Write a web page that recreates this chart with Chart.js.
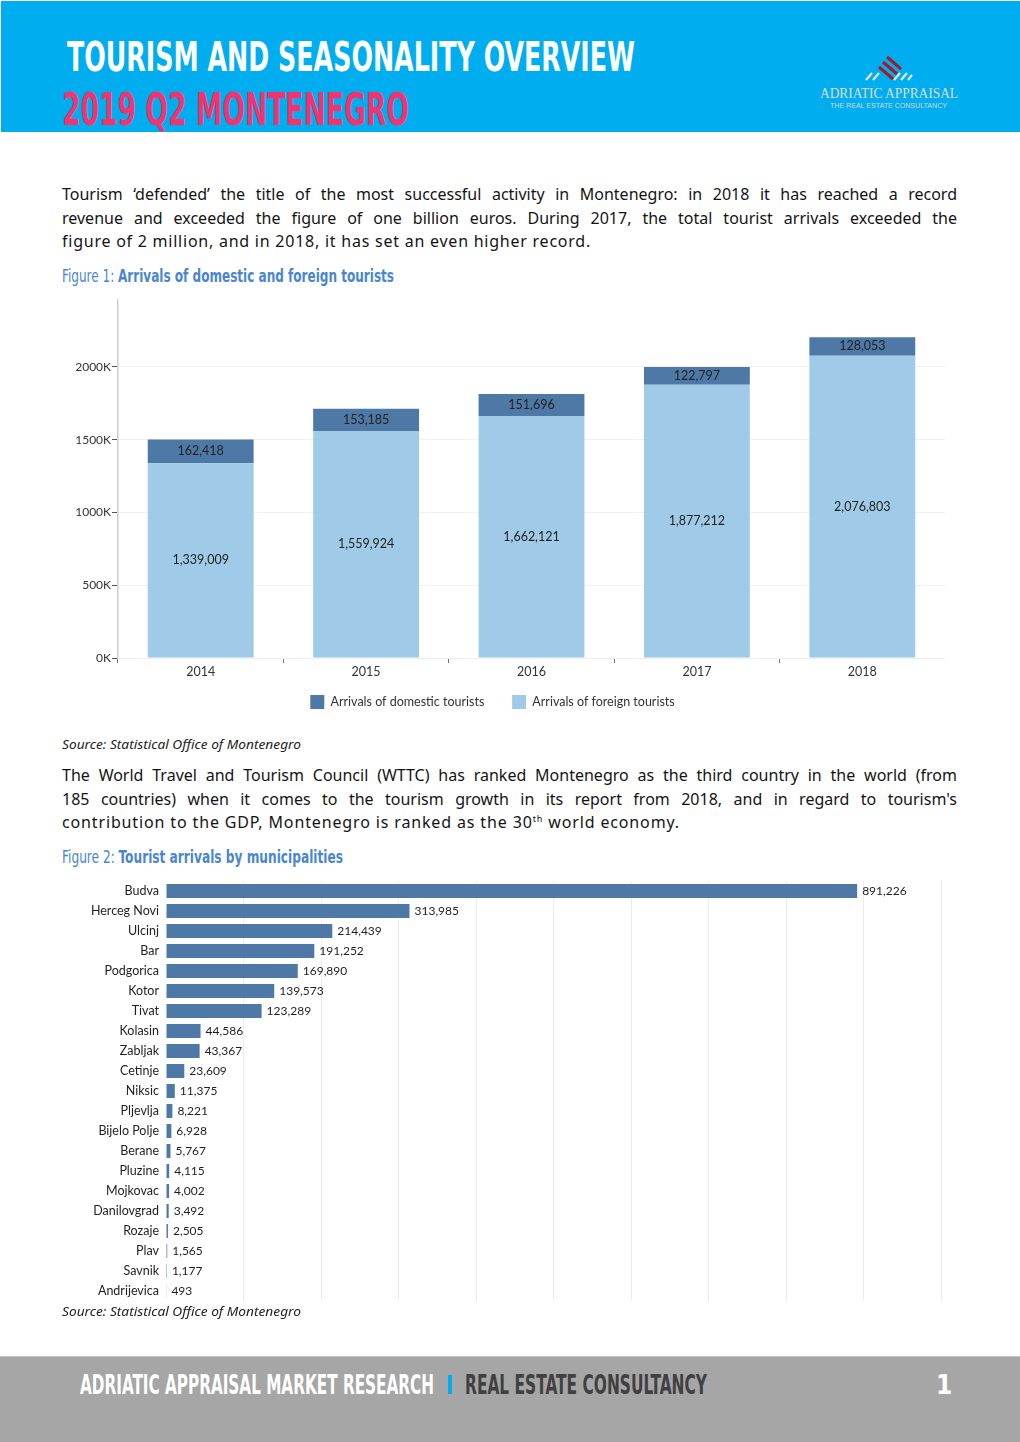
<!DOCTYPE html>
<html><head><meta charset="utf-8">
<script src="https://cdn.jsdelivr.net/npm/chart.js@4.4.0/dist/chart.umd.min.js"></script>
<style>
html,body{margin:0;padding:0;background:#fff;}
body{width:1020px;height:1442px;position:relative;overflow:hidden;font-family:'Noto Sans',sans-serif;color:#1a1a1a;}
.abs{position:absolute;white-space:nowrap;}
#hdr{position:absolute;left:1px;top:1px;width:1019px;height:131px;background:#00aeef;}
.cond{font-family:'Liberation Sans Narrow','DejaVu Sans Condensed',sans-serif;font-weight:bold;line-height:1;transform-origin:0 0;}
.para{position:absolute;left:62px;width:895px;font-family:'Noto Sans',sans-serif;font-size:16px;line-height:23.5px;white-space:nowrap;text-align:justify;text-align-last:justify;color:#141414;}
.para.last{text-align-last:left;}
.cap{color:#4a86cf;font-size:17px;}
.cap b{font-weight:bold;}
.src{font-family:'Noto Sans',sans-serif;font-style:italic;font-size:12px;line-height:15px;color:#222;transform-origin:0 0;}
#ftr{position:absolute;left:0;top:1356px;width:1020px;height:86px;background:#a6a6a6;border-top:1px solid #c4c4c4;box-sizing:border-box;}
canvas{position:absolute;}
</style></head>
<body>
<div id="hdr"></div>
<span class="abs cond fit" data-w="568" style="left:67px;top:37px;font-size:41px;color:#fff;">TOURISM AND SEASONALITY OVERVIEW</span>
<span class="abs cond fit" data-w="347" style="left:62px;top:88px;font-size:44px;color:#ef3470;">2019 Q2 MONTENEGRO</span>
<svg class="abs" style="left:860px;top:50px" width="60" height="34" viewBox="0 0 60 34">
  <g stroke="#e6e6e6" stroke-width="2.2">
    <line x1="6" y1="30" x2="12" y2="23"/><line x1="13" y1="30" x2="19" y2="23"/>
    <line x1="34" y1="30" x2="40" y2="23"/><line x1="41" y1="30" x2="47" y2="23"/>
    <line x1="48" y1="30" x2="52" y2="25"/>
  </g>
  <g stroke="#a31b2b" stroke-width="3">
    <line x1="19" y1="17" x2="33" y2="29"/><line x1="23" y1="12" x2="37" y2="24"/><line x1="27" y1="7" x2="41" y2="19"/>
  </g>
</svg>
<span class="abs fit" data-w="138" style="left:820px;top:85px;font-family:'Liberation Serif',serif;font-size:15px;line-height:16px;color:#dcdcdc;transform-origin:0 0;">ADRIATIC APPRAISAL</span>
<span class="abs fit" data-w="117" style="left:830px;top:101px;font-family:'Liberation Sans',sans-serif;font-size:7.5px;line-height:9px;color:#d6d6d6;transform-origin:0 0;">THE REAL ESTATE CONSULTANCY</span>

<div class="para" style="top:183px">Tourism ‘defended’ the title of the most successful activity in Montenegro: in 2018 it has reached a record</div>
<div class="para" style="top:206.5px">revenue and exceeded the figure of one billion euros. During 2017, the total tourist arrivals exceeded the</div>
<div class="para last" data-w="529" style="top:230px">figure of 2 million, and in 2018, it has set an even higher record.</div>

<span class="abs cond cap fit" data-w="332" style="left:62px;top:268px;font-weight:normal;"><span>Figure 1: </span><b>Arrivals of domestic and foreign tourists</b></span>

<canvas id="c1" width="905" height="433" style="left:40px;top:290px;width:905px;height:433px;"></canvas>

<span class="abs src fit" data-w="239" style="left:62px;top:737px;">Source: Statistical Office of Montenegro</span>

<div class="para" style="top:764px">The World Travel and Tourism Council (WTTC) has ranked Montenegro as the third country in the world (from</div>
<div class="para" style="top:787.5px">185 countries) when it comes to the tourism growth in its report from 2018, and in regard to tourism's</div>
<div class="para last" data-w="618" style="top:811px">contribution to the GDP, Montenegro is ranked as the 30<sup style="font-size:9px;line-height:0;">th</sup> world economy.</div>

<span class="abs cond cap fit" data-w="281" style="left:62px;top:849px;font-weight:normal;"><span>Figure 2: </span><b>Tourist arrivals by municipalities</b></span>

<canvas id="c2" width="900" height="426" style="left:60px;top:878px;width:900px;height:426px;"></canvas>

<span class="abs src fit" data-w="239" style="left:62px;top:1304px;">Source: Statistical Office of Montenegro</span>

<div id="ftr"></div>
<span class="abs cond fit" data-w="354" style="left:80px;top:1372px;font-size:26px;color:#fff;">ADRIATIC APPRAISAL MARKET RESEARCH</span>
<div class="abs" style="left:448px;top:1375px;width:4px;height:19px;background:#00aeef;"></div>
<span class="abs cond fit" data-w="242" style="left:465px;top:1372px;font-size:26px;color:#404040;">REAL ESTATE CONSULTANCY</span>
<span class="abs cond" style="left:936px;top:1372px;font-size:26px;color:#fff;">1</span>

<script>
// ---- Figure 1 data ----
const years = ['2014', '2015', '2016', '2017', '2018'];
const domesticArrivals = [162418, 153185, 151696, 122797, 128053];
const foreignArrivals = [1339009, 1559924, 1662121, 1877212, 2076803];
const seriesNames = ['Arrivals of domestic tourists', 'Arrivals of foreign tourists'];
const yTickValues = [0, 500000, 1000000, 1500000, 2000000];
const yMax = 2460000;

// ---- Figure 2 data ----
const municipalities = ['Budva', 'Herceg Novi', 'Ulcinj', 'Bar', 'Podgorica', 'Kotor', 'Tivat', 'Kolasin', 'Zabljak', 'Cetinje', 'Niksic', 'Pljevlja', 'Bijelo Polje', 'Berane', 'Pluzine', 'Mojkovac', 'Danilovgrad', 'Rozaje', 'Plav', 'Savnik', 'Andrijevica'];
const municipalityArrivals = [891226, 313985, 214439, 191252, 169890, 139573, 123289, 44586, 43367, 23609, 11375, 8221, 6928, 5767, 4115, 4002, 3492, 2505, 1565, 1177, 493];
const xMax2 = 1000000;

const DARK = '#4e79a7', LIGHT = '#a0cbe8';
const FONT = "Lato, 'Noto Sans', sans-serif";

const valueLabels = {
  id: 'valueLabels',
  afterDatasetsDraw(chart, args, opts) {
    const ctx = chart.ctx;
    ctx.save();
    ctx.font = opts.font;
    ctx.fillStyle = opts.color;
    ctx.textBaseline = 'middle';
    chart.data.datasets.forEach((ds, i) => {
      const meta = chart.getDatasetMeta(i);
      meta.data.forEach((el, j) => {
        const txt = ds.data[j].toLocaleString('en-US');
        const p = el.getProps(['x', 'y', 'base'], true);
        if (opts.mode === 'inside') {
          ctx.textAlign = 'center';
          ctx.fillText(txt, p.x, (p.y + p.base) / 2);
        } else {
          ctx.textAlign = 'left';
          ctx.fillText(txt, p.x + 5, p.y);
        }
      });
    });
    ctx.restore();
  }
};

function naturalWidth(el) {
  const cs = getComputedStyle(el);
  const probe = document.createElement('span');
  probe.innerHTML = el.innerHTML;
  probe.style.cssText = 'position:absolute;visibility:hidden;white-space:nowrap;';
  probe.style.fontFamily = cs.fontFamily;
  probe.style.fontSize = cs.fontSize;
  probe.style.fontStyle = cs.fontStyle;
  probe.style.fontWeight = cs.fontWeight;
  document.body.appendChild(probe);
  const w = probe.getBoundingClientRect().width;
  probe.remove();
  return w;
}

function fitAll() {
  document.querySelectorAll('.fit').forEach(el => {
    el.style.transform = 'none';
    const w = el.getBoundingClientRect().width;
    const target = parseFloat(el.dataset.w);
    el.style.transformOrigin = '0 0';
    el.style.transform = 'scaleX(' + (target / w) + ')';
  });
  document.querySelectorAll('.para').forEach(el => {
    const nat = naturalWidth(el);
    const chars = el.textContent.length;
    if (el.dataset.w) {
      el.style.letterSpacing = ((parseFloat(el.dataset.w) - nat) / chars) + 'px';
    } else if (nat > 893) {
      el.style.letterSpacing = (-(nat - 893) / chars) + 'px';
    }
  });
}

function draw() {
  fitAll();
  const baseLabels = Chart.defaults.plugins.legend.labels.generateLabels;
  new Chart(document.getElementById('c1'), {
    type: 'bar',
    data: {
      labels: years,
      datasets: [
        { label: seriesNames[1], data: foreignArrivals, backgroundColor: LIGHT, barPercentage: 0.64, categoryPercentage: 1 },
        { label: seriesNames[0], data: domesticArrivals, backgroundColor: DARK, barPercentage: 0.64, categoryPercentage: 1 }
      ]
    },
    options: {
      responsive: false, animation: false, devicePixelRatio: 1,
      layout: { padding: { top: 10, left: 0, right: 0, bottom: 4 } },
      plugins: {
        legend: {
          position: 'bottom',
          labels: {
            generateLabels: chart => baseLabels(chart).map(l => {
              if (l.datasetIndex === 1) l.text = l.text + '    ';
              l.lineWidth = 0;
              return l;
            }),
            sort: (a, b) => b.datasetIndex - a.datasetIndex,
            boxWidth: 14, boxHeight: 14, padding: 15,
            color: '#333', font: { family: FONT, size: 12.5 }
          }
        },
        tooltip: { enabled: false },
        valueLabels: { mode: 'inside', font: '12.5px ' + FONT, color: '#222' }
      },
      scales: {
        x: {
          stacked: true,
          border: { display: false },
          grid: {
            offset: true, drawOnChartArea: true,
            color: c => (c.index === years.length ? '#d6d6d6' : 'rgba(0,0,0,0)'),
            tickColor: '#777', tickLength: 5
          },
          ticks: { color: '#333', font: { family: FONT, size: 12.5 }, padding: 1 },
          afterFit: s => { s.height = 22; }
        },
        y: {
          stacked: true, min: 0, max: yMax,
          border: { color: '#cfcfcf', width: 1.5 },
          grid: { color: '#efefef', tickColor: '#555', tickLength: 6 },
          ticks: { callback: v => (v / 1000) + 'K', color: '#333', font: { family: FONT, size: 12 }, padding: 1 },
          afterBuildTicks: s => { s.ticks = yTickValues.map(v => ({ value: v })); },
          afterFit: s => { s.width = 78; }
        }
      }
    },
    plugins: [valueLabels]
  });

  new Chart(document.getElementById('c2'), {
    type: 'bar',
    data: {
      labels: municipalities,
      datasets: [{ data: municipalityArrivals, backgroundColor: DARK, barPercentage: 0.7, categoryPercentage: 1 }]
    },
    options: {
      indexAxis: 'y',
      responsive: false, animation: false, devicePixelRatio: 1,
      layout: { padding: { top: 3, left: 0, right: 18.5, bottom: 3 } },
      plugins: {
        legend: { display: false },
        tooltip: { enabled: false },
        valueLabels: { mode: 'end', font: '12px ' + FONT, color: '#1f1f1f' }
      },
      scales: {
        x: {
          min: 0, max: xMax2,
          border: { display: false },
          grid: { color: c => (c.index === 0 ? 'rgba(0,0,0,0)' : '#ececec'), drawTicks: false },
          ticks: { display: false, stepSize: 100000 },
          afterFit: s => { s.height = 0; s.paddingLeft = 0; s.paddingRight = 0; }
        },
        y: {
          border: { display: false },
          grid: { display: false, drawTicks: false },
          ticks: { color: '#1f1f1f', font: { family: FONT, size: 12.5 }, padding: 7 },
          afterFit: s => { s.width = 106; s.paddingTop = 0; s.paddingBottom = 0; }
        }
      }
    },
    plugins: [valueLabels]
  });
}
if (document.fonts && document.fonts.ready) { document.fonts.ready.then(draw); } else { draw(); }
</script>
</body></html>
